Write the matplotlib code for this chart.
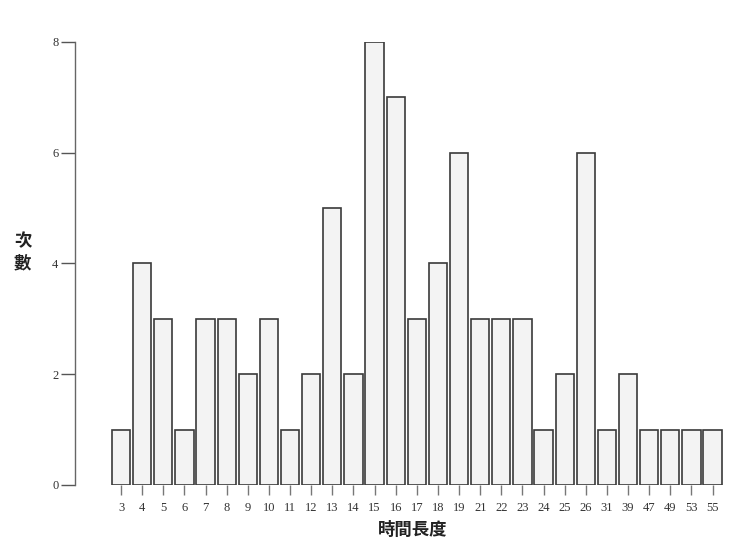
import matplotlib
matplotlib.use("Agg")
import matplotlib.pyplot as plt

categories = ["3", "4", "5", "6", "7", "8", "9", "10", "11", "12", "13", "14", "15", "16",
              "17", "18", "19", "21", "22", "23", "24", "25", "26", "31", "39", "47", "49", "53", "55"]
counts = [1, 4, 3, 1, 3, 3, 2, 3, 1, 2, 5, 2, 8, 7, 3, 4, 6, 3, 3, 3, 1, 2, 6, 1, 2, 1, 1, 1, 1]
y_ticks = [0, 2, 4, 6, 8]

fig = plt.figure(figsize=(7.5, 5.49), dpi=100)
ax = fig.add_axes([0.1, 0.1166, 0.867, 0.807])

x = list(range(len(categories)))
ax.bar(x, counts, width=0.86, facecolor="#f3f3f3", edgecolor="#3a3a3a", linewidth=1.2)

ax.set_xlim(-2.18, 28.6)
ax.set_ylim(0, 8)
ax.set_xticks(x)
ax.set_xticklabels(categories, fontfamily="Liberation Serif", fontsize=9, color="#333333")
ax.set_yticks(y_ticks)
ax.set_yticklabels([str(v) for v in y_ticks], fontfamily="Liberation Serif", fontsize=9, color="#333333")

for s in ["top", "right", "bottom"]:
    ax.spines[s].set_visible(False)
ax.spines["left"].set_color("#666666")
ax.spines["left"].set_linewidth(1.0)
ax.tick_params(axis="y", length=10, width=1.0, color="#555555", pad=2)
ax.tick_params(axis="x", length=7, width=1.0, color="#777777", pad=5)

fig.text(0.55, 0.018, "時間長度", ha="center", va="bottom",
         fontfamily=["Noto Sans CJK TC", "DejaVu Sans"], fontweight="bold", fontsize=12.5, color="#222222")
fig.text(0.03, 0.54, "次\n數", ha="center", va="center", linespacing=1.3,
         fontfamily=["Noto Sans CJK TC", "DejaVu Sans"], fontweight="bold", fontsize=12.5, color="#222222")

fig.savefig("out.png", dpi=100)
